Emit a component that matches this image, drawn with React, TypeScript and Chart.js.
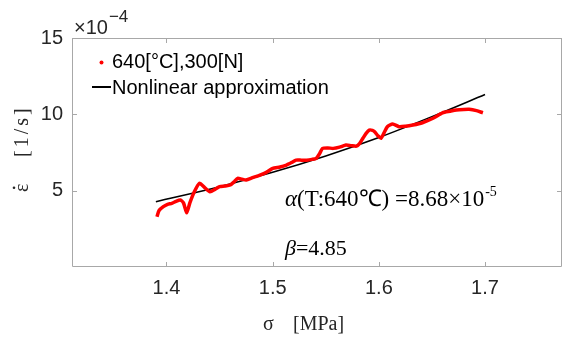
import React, { useEffect, useRef } from "react";
import { Chart, registerables } from "chart.js";

Chart.register(...registerables);

const SIGMA = [1.391, 1.393, 1.397, 1.401, 1.405, 1.409, 1.413, 1.416, 1.419, 1.422, 1.426, 1.431, 1.436, 1.441, 1.446, 1.45, 1.455, 1.46, 1.464, 1.467, 1.471, 1.475, 1.481, 1.488, 1.494, 1.5, 1.507, 1.513, 1.518, 1.522, 1.527, 1.532, 1.537, 1.541, 1.544, 1.547, 1.552, 1.557, 1.563, 1.569, 1.574, 1.579, 1.582, 1.585, 1.588, 1.591, 1.594, 1.596, 1.599, 1.602, 1.605, 1.608, 1.613, 1.619, 1.625, 1.632, 1.641, 1.651, 1.66, 1.667, 1.673, 1.68, 1.685, 1.692, 1.698];
const RATE = [3.29, 3.7, 3.95, 4.1, 4.17, 4.3, 4.39, 4.2, 3.55, 4.2, 4.9, 5.48, 5.2, 4.93, 5.1, 5.26, 5.3, 5.37, 5.6, 5.81, 5.75, 5.7, 5.85, 6.02, 6.2, 6.46, 6.55, 6.68, 6.85, 7.0, 7.0, 7.0, 7.05, 7.12, 7.4, 7.77, 7.8, 7.77, 7.85, 7.99, 7.95, 7.92, 8.1, 8.43, 8.75, 8.97, 8.95, 8.86, 8.6, 8.43, 8.8, 9.19, 9.37, 9.19, 9.22, 9.3, 9.45, 9.74, 10.1, 10.2, 10.28, 10.32, 10.33, 10.24, 10.1];

const FIT_SIGMA = [1.39, 1.45, 1.5, 1.55, 1.6, 1.65, 1.7];
const FIT_RATE = [4.28, 5.26, 6.2, 7.27, 8.48, 9.85, 11.3];

const X_TICKS = [1.4, 1.5, 1.6, 1.7];
const Y_TICKS = [5, 10, 15];
const X_MIN = 1.311;
const X_MAX = 1.7725;
const Y_MIN = 0;
const Y_MAX = 15;

const LEGEND_DATA = "640[°C],300[N]";
const LEGEND_FIT = "Nonlinear approximation";
const ALPHA_TEXT = "(T:640℃) =8.68×10";
const ALPHA_EXP = "-5";
const BETA_TEXT = "=4.85";

const AXIS = "#a8a8a8";
const TEXT = "#262626";
const SANS = '"Liberation Sans", Arial, sans-serif';
const SERIF = '"Liberation Serif", "Times New Roman", serif';

const decor = {
  id: "decor",
  afterDraw(chart: any) {
    const { ctx, chartArea } = chart;
    const { left, right, top, bottom } = chartArea;
    const xs = chart.scales.x;
    const ys = chart.scales.y;
    ctx.save();
    ctx.strokeStyle = AXIS;
    ctx.lineWidth = 1;
    ctx.beginPath();
    ctx.rect(left + 0.5, top + 0.5, right - left - 1, bottom - top - 1);
    ctx.stroke();
    ctx.beginPath();
    for (const v of X_TICKS) {
      const p = Math.round(xs.getPixelForValue(v)) + 0.5;
      ctx.moveTo(p, bottom);
      ctx.lineTo(p, bottom - 5);
      ctx.moveTo(p, top);
      ctx.lineTo(p, top + 5);
    }
    for (const v of Y_TICKS) {
      const p = Math.round(ys.getPixelForValue(v)) + 0.5;
      ctx.moveTo(left, p);
      ctx.lineTo(left + 5, p);
      ctx.moveTo(right, p);
      ctx.lineTo(right - 5, p);
    }
    ctx.stroke();

    // multiplier
    ctx.fillStyle = TEXT;
    ctx.textBaseline = "alphabetic";
    ctx.textAlign = "left";
    ctx.font = `20px ${SANS}`;
    ctx.fillText("×10", 74, 34);
    const mw = ctx.measureText("×10").width;
    ctx.font = `17px ${SANS}`;
    ctx.fillText("−4", 74 + mw + 1, 22);

    // legend
    ctx.fillStyle = "#ff0000";
    ctx.beginPath();
    ctx.arc(101.5, 62.5, 2, 0, Math.PI * 2);
    ctx.fill();
    ctx.fillStyle = "#000";
    ctx.font = `20px ${SANS}`;
    ctx.textBaseline = "middle";
    ctx.fillText(LEGEND_DATA, 112, 62);
    ctx.strokeStyle = "#000";
    ctx.lineWidth = 2;
    ctx.beginPath();
    ctx.moveTo(92, 87);
    ctx.lineTo(111, 87);
    ctx.stroke();
    ctx.fillText(LEGEND_FIT, 112, 88);

    // annotations
    ctx.textBaseline = "alphabetic";
    ctx.font = `italic 23px ${SERIF}`;
    ctx.fillText("α", 285, 206);
    let w = ctx.measureText("α").width;
    ctx.font = `23px ${SERIF}`;
    ctx.fillText(ALPHA_TEXT, 285 + w, 206);
    w += ctx.measureText(ALPHA_TEXT).width;
    ctx.font = `14px ${SERIF}`;
    ctx.fillText(ALPHA_EXP, 285 + w + 1, 196);

    ctx.font = `italic 22px ${SERIF}`;
    ctx.fillText("β", 285, 255);
    const bw = ctx.measureText("β").width;
    ctx.font = `22px ${SERIF}`;
    ctx.fillText(BETA_TEXT, 285 + bw, 255);

    // axis titles
    ctx.fillStyle = TEXT;
    ctx.font = `20px ${SERIF}`;
    ctx.fillText("σ", 263, 330);
    ctx.fillText("[MPa]", 293, 330);

    ctx.save();
    ctx.translate(28, 0);
    ctx.rotate(-Math.PI / 2);
    ctx.font = `20px ${SERIF}`;
    ctx.fillText("ε", -192, 0);
    const ew = ctx.measureText("ε").width;
    ctx.beginPath();
    ctx.arc(-192 + ew / 2, -14, 1.3, 0, Math.PI * 2);
    ctx.fill();
    (ctx as any).letterSpacing = "3px";
    ctx.fillText("[1/s]", -157, 0);
    ctx.restore();

    ctx.restore();
  },
};

export default function App() {
  const ref = useRef<HTMLCanvasElement>(null);
  useEffect(() => {
    const canvas = ref.current!;
    const chart = new Chart(canvas, {
      type: "line",
      data: {
        datasets: [
          {
            data: SIGMA.map((s, i) => ({ x: s, y: RATE[i] })),
            borderColor: "#ff0000",
            borderWidth: 3.5,
            pointRadius: 0,
            tension: 0.2,
          },
          {
            data: FIT_SIGMA.map((s, i) => ({ x: s, y: FIT_RATE[i] })),
            borderColor: "#000",
            borderWidth: 1.6,
            pointRadius: 0,
            cubicInterpolationMode: "monotone",
          },
        ],
      },
      options: {
        animation: false,
        responsive: false,
        devicePixelRatio: 1,
        layout: { padding: { top: 38, right: 1, left: 0, bottom: 0 } },
        plugins: { legend: { display: false }, tooltip: { enabled: false } },
        scales: {
          x: {
            type: "linear",
            min: X_MIN,
            max: X_MAX,
            grid: { display: false, drawTicks: false },
            border: { display: false },
            afterBuildTicks: (s: any) => {
              s.ticks = X_TICKS.map((v) => ({ value: v }));
            },
            afterFit: (s: any) => {
              s.height = 70;
            },
            ticks: {
              color: TEXT,
              font: { family: SANS, size: 20 },
              padding: 9,
              maxRotation: 0,
              callback: (v: any) => Number(v).toFixed(1),
            },
          },
          y: {
            type: "linear",
            min: Y_MIN,
            max: Y_MAX,
            grid: { display: false, drawTicks: false },
            border: { display: false },
            afterBuildTicks: (s: any) => {
              s.ticks = Y_TICKS.map((v) => ({ value: v }));
            },
            afterFit: (s: any) => {
              s.width = 72;
            },
            ticks: {
              color: TEXT,
              font: { family: SANS, size: 20 },
              padding: 9,
              callback: (v: any) => String(v),
            },
          },
        },
      },
      plugins: [decor],
    });
    return () => chart.destroy();
  }, []);
  return (
    <div style={{ position: "absolute", left: 0, top: 0, width: 563, height: 337, background: "#fff" }}>
      <canvas ref={ref} width={563} height={337} />
    </div>
  );
}
